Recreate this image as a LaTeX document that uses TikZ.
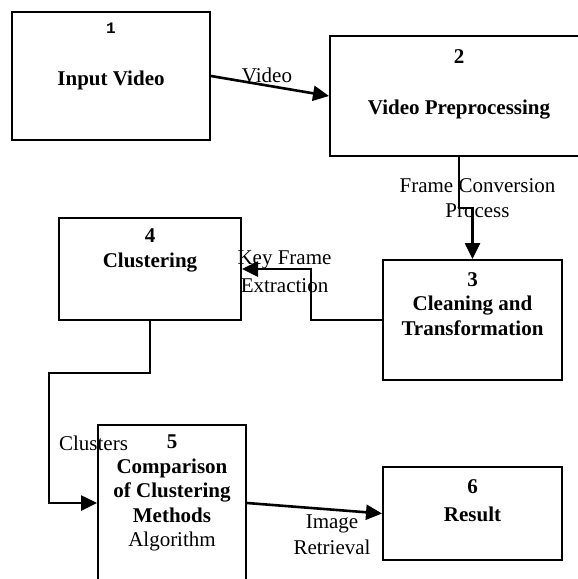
\documentclass[tikz,border=0pt]{standalone}
\usepackage{fontspec}
\setmainfont{Liberation Serif}
\newfontfamily\monof{Liberation Mono}
\usetikzlibrary{arrows.meta}
\begin{document}
\begin{tikzpicture}[x=1pt,y=-1pt,
  box/.style={draw, line width=2pt, rectangle, inner sep=0pt},
  lbl/.style={inner sep=0pt, align=center, font=\fontsize{21}{24.5}\selectfont},
  blbl/.style={lbl, font=\fontsize{21}{24.5}\selectfont\bfseries},
  conn/.style={line width=2.6pt, -{Triangle[length=16pt,width=15pt]}}]
\useasboundingbox (0,0) rectangle (578,579);
\clip (0,0) rectangle (578,579);
% boxes
\node[box, minimum width=198, minimum height=128] (b1) at (111,76) {};
\node[box, minimum width=258, minimum height=120] (b2) at (459,96) {};
\node[box, minimum width=179, minimum height=120] (b3) at (472.5,320) {};
\node[box, minimum width=182, minimum height=102] (b4) at (150,269) {};
\node[box, minimum width=148, minimum height=156] (b5) at (172,503) {};
\node[box, minimum width=179, minimum height=93] (b6) at (472.5,513.5) {};
% box texts
\node[inner sep=0pt, font=\monof\bfseries\fontsize{16}{18}\selectfont] (t1n) at (111,28) {1};
\node[blbl] (t1) at (111,80) {Input Video};
\node[blbl] (t2n) at (459,57) {2};
\node[blbl] (t2) at (459,110) {Video Preprocessing};
\node[blbl] (t3) at (472.5,304) {3\\Cleaning and\\Transformation};
\node[blbl] (t4) at (150,250.5) {4\\Clustering};
\node[lbl, font=\fontsize{21}{24.5}\selectfont] (t5) at (172,493) {\textbf{5}\\\textbf{Comparison}\\\textbf{of Clustering}\\\textbf{Methods}\\Algorithm};
\node[blbl, font=\fontsize{21}{28}\selectfont\bfseries] (t6) at (472.5,501) {6\\Result};
% connectors
\draw[conn] (b1.east) -- (b2.west);
\draw[conn] (b2.south) -- ++(0,51) -| (b3.north);
\draw[conn] (b3.west) -- ++(-71,0) |- (b4.east);
\draw[conn] (b4.south) -- ++(0,52) -- ++(-101,0) |- (b5.west);
\draw[conn] (b5.east) -- (b6.west);
% connector labels
\node[lbl] (lv) at (267,75) {Video};
\node[lbl] (lf) at (477.5,198) {Frame Conversion\\Process};
\node[lbl, font=\fontsize{21}{28}\selectfont] (lk) at (284.5,272) {Key Frame\\Extraction};
\node[lbl] (lc) at (93.5,443) {Clusters};
\node[lbl, font=\fontsize{21}{26}\selectfont] (li) at (332,535) {Image\\Retrieval};
\end{tikzpicture}
\end{document}
